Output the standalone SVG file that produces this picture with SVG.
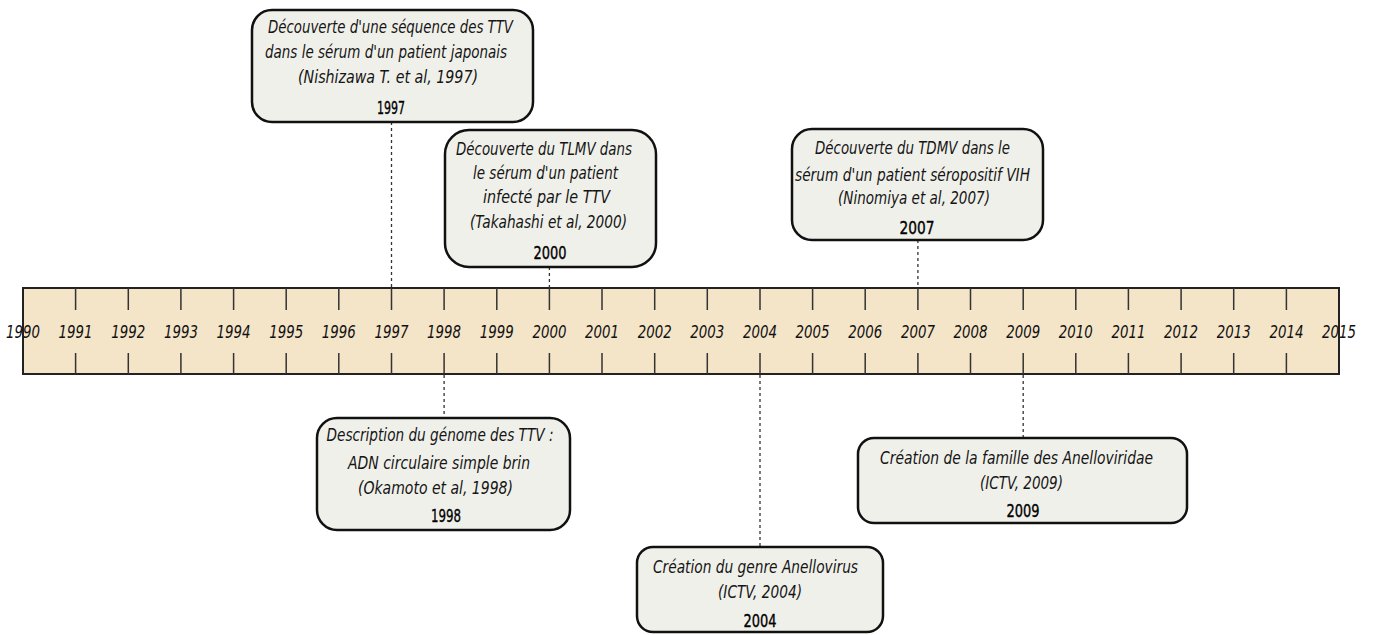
<svg xmlns="http://www.w3.org/2000/svg" width="1373" height="635" viewBox="0 0 1373 635">
<style>
.bar{fill:#f4e4c8;stroke:#222;stroke-width:2}
.tick{stroke:#333;stroke-width:1.5}
.yr{font-family:"DejaVu Sans",sans-serif;font-style:italic;font-size:18px;fill:#111;text-anchor:middle}
.box{fill:#f0f0ea;stroke:#111;stroke-width:2.5}
.t{font-family:"DejaVu Sans",sans-serif;font-style:italic;font-size:17.5px;fill:#151515;text-anchor:middle}
.y{font-family:"DejaVu Sans",sans-serif;font-size:18px;fill:#000;stroke:#000;stroke-width:0.4;text-anchor:middle}
.dash{stroke:#333;stroke-width:1.3;stroke-dasharray:3,3;fill:none}
</style>
<g id="timeline">
<rect class="bar" x="23" y="288" width="1316" height="86"/>
<g class="tick">
<path d="M75.6 288V310M128.3 288V310M180.9 288V310M233.6 288V310M286.2 288V310M338.8 288V310M391.5 288V310M444.1 288V310M496.8 288V310M549.4 288V310M602 288V310M654.7 288V310M707.3 288V310M760 288V310M812.6 288V310M865.2 288V310M917.9 288V310M970.5 288V310M1023.2 288V310M1075.8 288V310M1128.4 288V310M1181.1 288V310M1233.7 288V310M1286.4 288V310"/>
<path d="M75.6 353V374M128.3 353V374M180.9 353V374M233.6 353V374M286.2 353V374M338.8 353V374M391.5 353V374M444.1 353V374M496.8 353V374M549.4 353V374M602 353V374M654.7 353V374M707.3 353V374M760 353V374M812.6 353V374M865.2 353V374M917.9 353V374M970.5 353V374M1023.2 353V374M1075.8 353V374M1128.4 353V374M1181.1 353V374M1233.7 353V374M1286.4 353V374"/>
</g>
<g class="yr">
<text x="23" y="338" textLength="34" lengthAdjust="spacingAndGlyphs">1990</text><text x="75.6" y="338" textLength="34" lengthAdjust="spacingAndGlyphs">1991</text><text x="128.3" y="338" textLength="34" lengthAdjust="spacingAndGlyphs">1992</text><text x="180.9" y="338" textLength="34" lengthAdjust="spacingAndGlyphs">1993</text><text x="233.6" y="338" textLength="34" lengthAdjust="spacingAndGlyphs">1994</text><text x="286.2" y="338" textLength="34" lengthAdjust="spacingAndGlyphs">1995</text><text x="338.8" y="338" textLength="34" lengthAdjust="spacingAndGlyphs">1996</text><text x="391.5" y="338" textLength="34" lengthAdjust="spacingAndGlyphs">1997</text><text x="444.1" y="338" textLength="34" lengthAdjust="spacingAndGlyphs">1998</text><text x="496.8" y="338" textLength="34" lengthAdjust="spacingAndGlyphs">1999</text><text x="549.4" y="338" textLength="34" lengthAdjust="spacingAndGlyphs">2000</text><text x="602" y="338" textLength="34" lengthAdjust="spacingAndGlyphs">2001</text><text x="654.7" y="338" textLength="34" lengthAdjust="spacingAndGlyphs">2002</text><text x="707.3" y="338" textLength="34" lengthAdjust="spacingAndGlyphs">2003</text><text x="760" y="338" textLength="34" lengthAdjust="spacingAndGlyphs">2004</text><text x="812.6" y="338" textLength="34" lengthAdjust="spacingAndGlyphs">2005</text><text x="865.2" y="338" textLength="34" lengthAdjust="spacingAndGlyphs">2006</text><text x="917.9" y="338" textLength="34" lengthAdjust="spacingAndGlyphs">2007</text><text x="970.5" y="338" textLength="34" lengthAdjust="spacingAndGlyphs">2008</text><text x="1023.2" y="338" textLength="34" lengthAdjust="spacingAndGlyphs">2009</text><text x="1075.8" y="338" textLength="34" lengthAdjust="spacingAndGlyphs">2010</text><text x="1128.4" y="338" textLength="34" lengthAdjust="spacingAndGlyphs">2011</text><text x="1181.1" y="338" textLength="34" lengthAdjust="spacingAndGlyphs">2012</text><text x="1233.7" y="338" textLength="34" lengthAdjust="spacingAndGlyphs">2013</text><text x="1286.4" y="338" textLength="34" lengthAdjust="spacingAndGlyphs">2014</text><text x="1339" y="338" textLength="34" lengthAdjust="spacingAndGlyphs">2015</text>
</g>
</g>
<g id="connectors">
<path class="dash" d="M391.5 122V288"/>
<path class="dash" d="M549.4 267V288"/>
<path class="dash" d="M917.9 240V288"/>
<path class="dash" d="M444.1 375V418"/>
<path class="dash" d="M760 375V547"/>
<path class="dash" d="M1023.2 375V438"/>
</g>
<g id="n1997">
<rect class="box" x="252" y="10" width="281" height="112" rx="20"/>
<text class="t" x="390.5" y="33" textLength="245" lengthAdjust="spacingAndGlyphs">Découverte d'une séquence des TTV</text>
<text class="t" x="386" y="58" textLength="242" lengthAdjust="spacingAndGlyphs">dans le sérum d'un patient japonais</text>
<text class="t" x="388" y="83" textLength="180" lengthAdjust="spacingAndGlyphs">(Nishizawa T. et al, 1997)</text>
<text class="y" x="391" y="114" textLength="28" lengthAdjust="spacingAndGlyphs">1997</text>
</g>
<g id="n2000">
<rect class="box" x="445" y="130" width="211" height="137" rx="24"/>
<text class="t" x="544" y="155" textLength="176" lengthAdjust="spacingAndGlyphs">Découverte du TLMV dans</text>
<text class="t" x="545.5" y="179" textLength="145" lengthAdjust="spacingAndGlyphs">le sérum d'un patient</text>
<text class="t" x="546.5" y="203" textLength="127" lengthAdjust="spacingAndGlyphs">infecté par le TTV</text>
<text class="t" x="548.5" y="228" textLength="157" lengthAdjust="spacingAndGlyphs">(Takahashi et al, 2000)</text>
<text class="y" x="550" y="259" textLength="33" lengthAdjust="spacingAndGlyphs">2000</text>
</g>
<g id="n2007">
<rect class="box" x="792" y="129" width="251" height="111" rx="20"/>
<text class="t" x="912.5" y="154" textLength="195" lengthAdjust="spacingAndGlyphs">Découverte du TDMV dans le</text>
<text class="t" x="912.5" y="181" textLength="235" lengthAdjust="spacingAndGlyphs">sérum d'un patient séropositif VIH</text>
<text class="t" x="914" y="204" textLength="152" lengthAdjust="spacingAndGlyphs">(Ninomiya et al, 2007)</text>
<text class="y" x="917" y="234" textLength="35" lengthAdjust="spacingAndGlyphs">2007</text>
</g>
<g id="n1998">
<rect class="box" x="317" y="418" width="253" height="112" rx="20"/>
<text class="t" x="440" y="441" textLength="227" lengthAdjust="spacingAndGlyphs">Description du génome des TTV :</text>
<text class="t" x="439" y="469" textLength="182" lengthAdjust="spacingAndGlyphs">ADN circulaire simple brin</text>
<text class="t" x="435.5" y="494" textLength="155" lengthAdjust="spacingAndGlyphs">(Okamoto et al, 1998)</text>
<text class="y" x="446" y="522" textLength="30" lengthAdjust="spacingAndGlyphs">1998</text>
</g>
<g id="n2004">
<rect class="box" x="637" y="547" width="246" height="85" rx="16"/>
<text class="t" x="755.5" y="573" textLength="205" lengthAdjust="spacingAndGlyphs">Création du genre Anellovirus</text>
<text class="t" x="760" y="598" textLength="84" lengthAdjust="spacingAndGlyphs">(ICTV, 2004)</text>
<text class="y" x="760" y="627" textLength="33" lengthAdjust="spacingAndGlyphs">2004</text>
</g>
<g id="n2009">
<rect class="box" x="858" y="438" width="329" height="85" rx="16"/>
<text class="t" x="1016.5" y="464" textLength="273" lengthAdjust="spacingAndGlyphs">Création de la famille des Anelloviridae</text>
<text class="t" x="1021.5" y="489" textLength="83" lengthAdjust="spacingAndGlyphs">(ICTV, 2009)</text>
<text class="y" x="1023" y="517" textLength="33" lengthAdjust="spacingAndGlyphs">2009</text>
</g>
</svg>
